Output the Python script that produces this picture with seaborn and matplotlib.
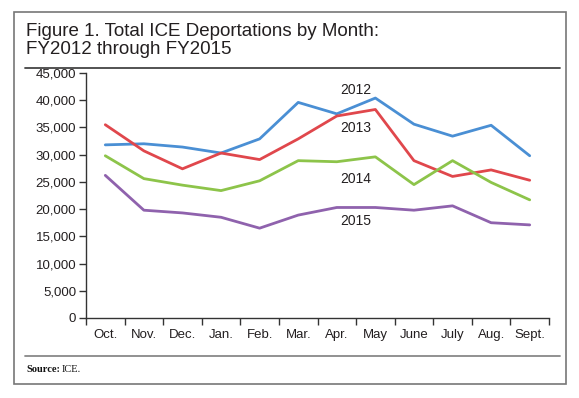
import matplotlib
matplotlib.use("Agg")
import matplotlib.pyplot as plt
import matplotlib.ticker as mticker
from matplotlib.patches import Rectangle
from matplotlib.lines import Line2D
import seaborn as sns
import pandas as pd
import numpy as np

months = ["Oct.", "Nov.", "Dec.", "Jan.", "Feb.", "Mar.", "Apr.", "May", "June", "July", "Aug.", "Sept."]
fy2012 = [31800, 32000, 31400, 30300, 32900, 39600, 37500, 40400, 35600, 33400, 35400, 29800]
fy2013 = [35500, 30700, 27400, 30300, 29100, 32900, 37100, 38300, 28900, 26000, 27200, 25300]
fy2014 = [29800, 25600, 24400, 23400, 25200, 28900, 28700, 29600, 24500, 28900, 24900, 21700]
fy2015 = [26200, 19800, 19300, 18500, 16500, 18900, 20300, 20300, 19800, 20600, 17500, 17100]
years = ["2012", "2013", "2014", "2015"]
colors = ["#4a8fd4", "#e0474c", "#8dc44a", "#8f62ad"]
label_y = [41800, 34900, 25500, 17900]

rows = []
for yr, vals in zip(years, [fy2012, fy2013, fy2014, fy2015]):
    for i, (m, v) in enumerate(zip(months, vals)):
        rows.append({"pos": i, "month": m, "year": yr, "value": v})
df = pd.DataFrame(rows)

sns.set_style("white")
plt.rcParams["font.family"] = ["Liberation Sans", "DejaVu Sans"]

fig = plt.figure(figsize=(5.79, 3.98), dpi=100)
ax = fig.add_axes([86/579, 1-318/398, (549-86)/579, (318-73)/398])

sns.lineplot(data=df, x="pos", y="value", hue="year", palette=dict(zip(years, colors)),
             linewidth=2.0, legend=False, ax=ax)

txt = "#231f20"
for yr, yy in zip(years, label_y):
    ax.text(6.5, yy, yr, ha="center", va="center", fontsize=10, color=txt)

ax.set_xlim(-0.5, 11.5)
ax.set_ylim(0, 45000)
ax.set_xlabel("")
ax.set_ylabel("")
ax.set_xticks(range(12))
ax.set_xticklabels(months, fontsize=9.5, color=txt)
ax.set_xticks(np.arange(-0.5, 12, 1), minor=True)
ax.tick_params(axis="x", which="major", length=0, pad=8)
ax.tick_params(axis="x", which="minor", length=5, width=1, color="#333333", direction="out")
ax.set_yticks(np.arange(0, 45001, 5000))
ax.yaxis.set_major_formatter(mticker.FuncFormatter(lambda v, p: f"{int(v):,}"))
ax.tick_params(axis="y", length=5, width=1, color="#333333", direction="out", labelsize=9.5, labelcolor=txt, pad=2)
ax.tick_params(left=True, bottom=True, which="both")
for s in ["top", "right"]:
    ax.spines[s].set_visible(False)
for s in ["left", "bottom"]:
    ax.spines[s].set_color("#333333")
    ax.spines[s].set_linewidth(1)

# frame and decorations
fig.patches.append(Rectangle((14/579, 1-384/398), (566-14)/579, (384-12)/398,
                             transform=fig.transFigure, fill=False, edgecolor="#777777", linewidth=1.2))
fig.lines.append(Line2D([25/579, 560/579], [1-68/398, 1-68/398], transform=fig.transFigure,
                        color="#444444", linewidth=1.3))
fig.lines.append(Line2D([25/579, 560/579], [1-356/398, 1-356/398], transform=fig.transFigure,
                        color="#888888", linewidth=1.3))
fig.text(26/579, 1-31/398, "Figure 1. Total ICE Deportations by Month:", fontsize=13.5, color=txt,
         ha="left", va="center")
fig.text(26/579, 1-50/398, "FY2012 through FY2015", fontsize=13.5, color=txt, ha="left", va="center")
fig.text(26/579, 1-370/398, "Source:", fontsize=7.5, color="#111111", fontweight="bold",
         family=["Liberation Serif"], ha="left", va="center")
fig.text(62/579, 1-370/398, "ICE.", fontsize=7.5, color="#111111",
         family=["Liberation Serif"], ha="left", va="center")

fig.savefig("out.png", dpi=100)
